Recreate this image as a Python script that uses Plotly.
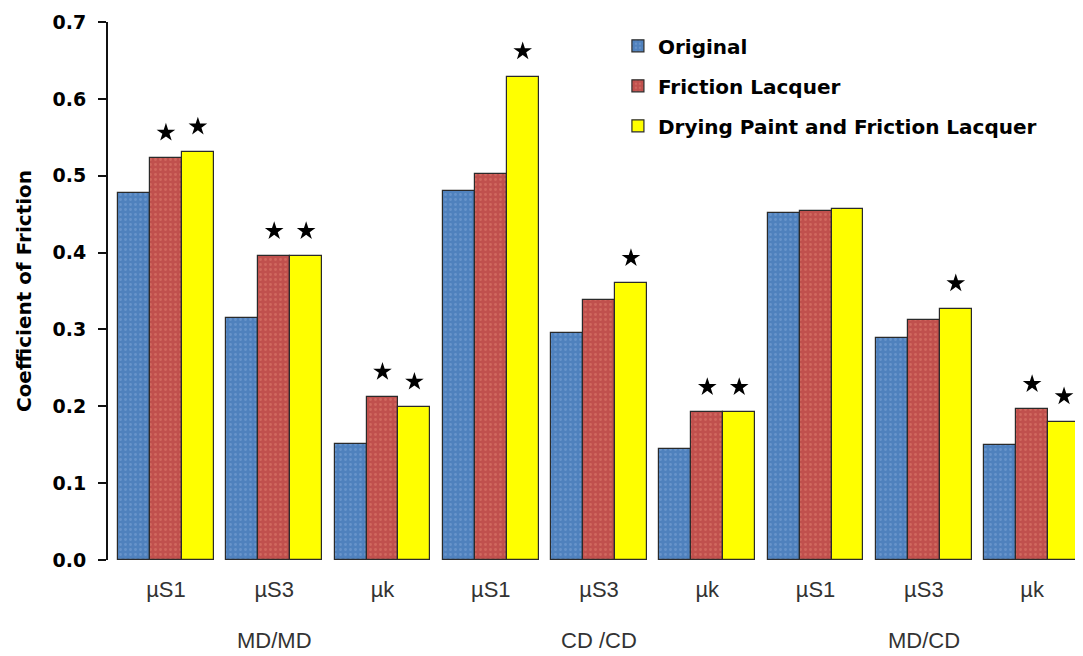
import plotly.graph_objects as go

categories = ["µS1", "µS3", "µk", "µS1", "µS3", "µk", "µS1", "µS3", "µk"]
groups = ["MD/MD", "CD /CD", "MD/CD"]
series_names = ["Original", "Friction Lacquer", "Drying Paint and Friction Lacquer"]
original = [0.477, 0.315, 0.151, 0.480, 0.296, 0.144, 0.451, 0.289, 0.150]
friction_lacquer = [0.523, 0.395, 0.212, 0.502, 0.338, 0.192, 0.454, 0.312, 0.196]
drying_paint = [0.531, 0.395, 0.199, 0.629, 0.360, 0.192, 0.457, 0.327, 0.180]
stars_original = [0, 0, 0, 0, 0, 0, 0, 0, 0]
stars_friction = [1, 1, 1, 0, 0, 1, 0, 0, 1]
stars_drying = [1, 1, 1, 1, 1, 1, 0, 1, 1]

colors = ["#4F81BD", "#C0504D", "#FFFF00"]
pattern_fg = ["#7FA6D8", "#E07F70", "#FFFF00"]
values = [original, friction_lacquer, drying_paint]
stars = [stars_original, stars_friction, stars_drying]

bw = 0.295
offsets = [-bw, 0.0, bw]
star_offset = 0.033

BOLD = "DejaVu Sans, Verdana, sans-serif"
REG = "Liberation Sans, Arial, sans-serif"

fig = go.Figure()
for j in range(3):
    xs = [i + offsets[j] for i in range(len(categories))]
    fig.add_trace(go.Bar(
        x=xs, y=values[j], width=bw, name=series_names[j],
        legendgroup=series_names[j],
        marker=dict(color=colors[j], line=dict(color="#2a2a2a", width=1.2),
                    pattern=dict(shape="." if j < 2 else "", fgcolor=pattern_fg[j],
                                 size=5, solidity=0.25)),
    ))
for j in range(3):
    sx = [i + offsets[j] for i in range(len(categories)) if stars[j][i]]
    sy = [values[j][i] + star_offset for i in range(len(categories)) if stars[j][i]]
    if sx:
        fig.add_trace(go.Scatter(
            x=sx, y=sy, mode="markers", showlegend=False, hoverinfo="skip",
            marker=dict(symbol="star", size=14, color="black"),
        ))

for k, g in enumerate(groups):
    fig.add_annotation(x=1 + 3 * k, y=-0.149, xref="x", yref="paper", text=g,
                       showarrow=False, yanchor="middle",
                       font=dict(family=REG, size=22, color="#333"))

fig.update_layout(
    width=1075, height=648,
    margin=dict(l=100, r=0, t=14, b=96),
    plot_bgcolor="white", paper_bgcolor="white",
    bargap=0,
    showlegend=True,
    legend=dict(x=0.523, y=0.992, xanchor="left", yanchor="top",
                font=dict(family=BOLD, size=20, color="black", weight="bold"),
                bgcolor="rgba(0,0,0,0)", traceorder="grouped", tracegroupgap=11,
                itemwidth=30),
    xaxis=dict(range=[-0.535, 8.47], tickvals=list(range(len(categories))),
               ticktext=categories, showgrid=False, zeroline=False, showline=False,
               ticks="", ticklabelstandoff=14,
               tickfont=dict(family=REG, size=22, color="#333")),
    yaxis=dict(range=[0, 0.7], dtick=0.1, tickformat=".1f", showgrid=False,
               zeroline=False, showline=True, linecolor="#111", linewidth=2,
               ticks="outside", ticklen=8, tickwidth=2, tickcolor="#111",
               ticklabelstandoff=8,
               tickfont=dict(family=BOLD, size=19, color="black", weight="bold"),
               title=dict(text="Coefficient of Friction", standoff=16,
                          font=dict(family=BOLD, size=20, color="black", weight="bold"))),
)

fig.write_html("out.html")
